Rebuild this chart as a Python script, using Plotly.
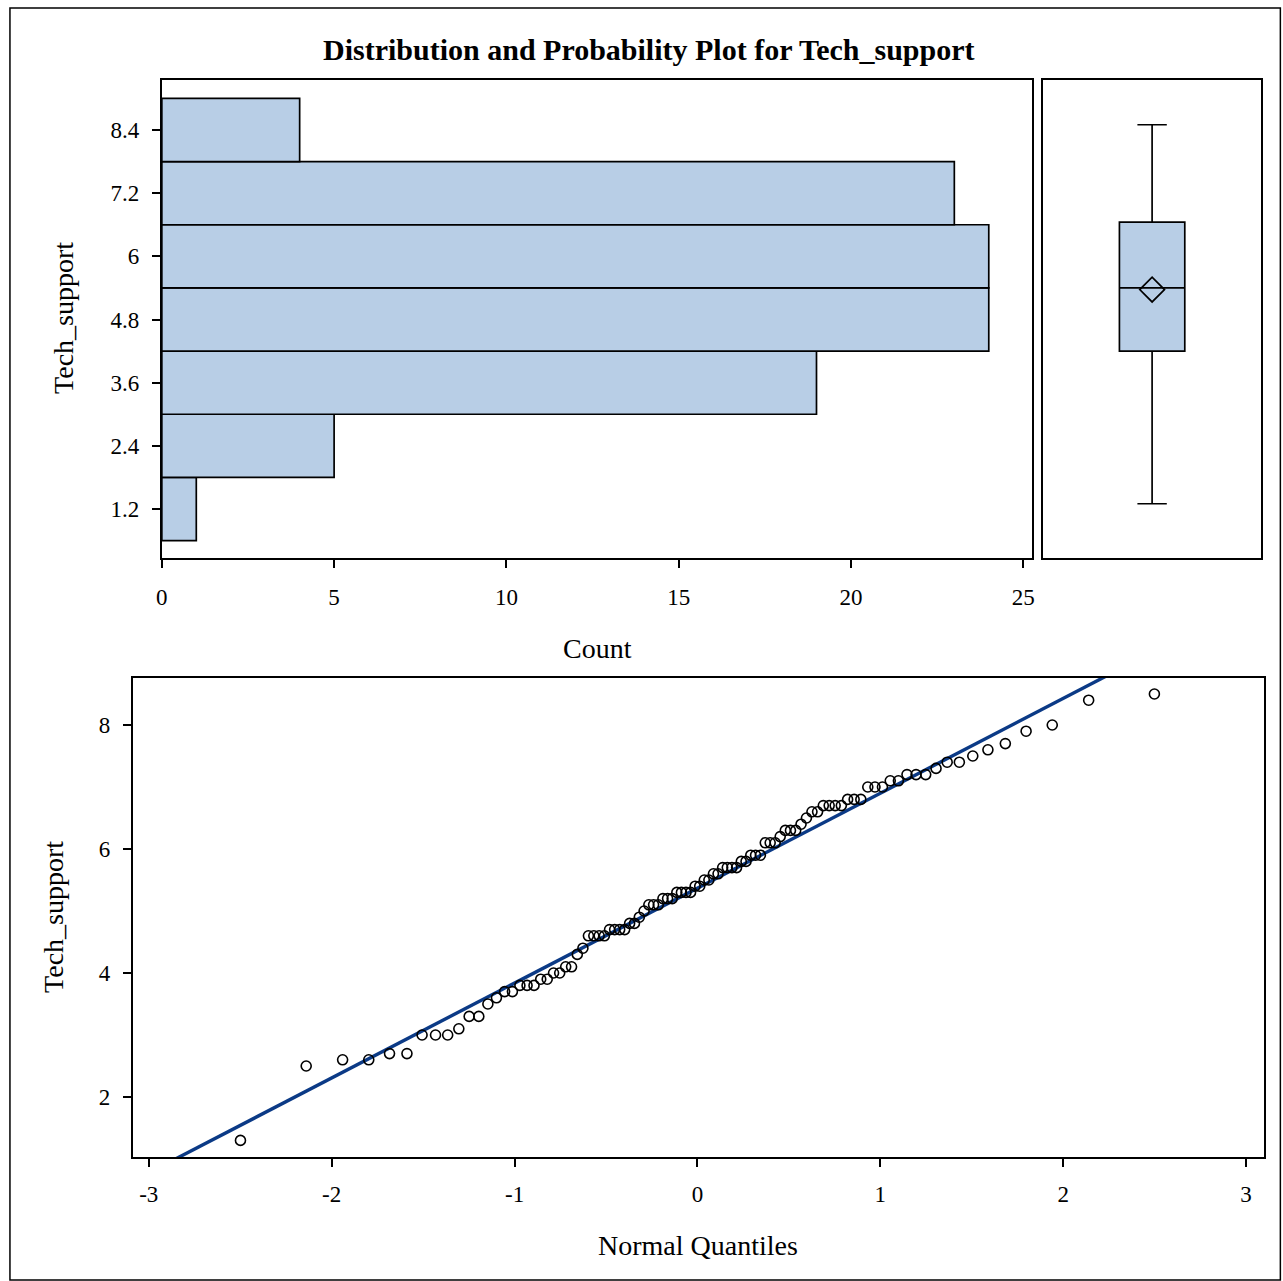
import statistics
import plotly.graph_objects as go

# Sorted Tech_support observations (n = 100)
tech_support = [
    1.3, 2.5, 2.6, 2.6, 2.7, 2.7, 3.0, 3.0, 3.0, 3.1,
    3.3, 3.3, 3.5, 3.6, 3.7, 3.7, 3.8, 3.8, 3.8, 3.9,
    3.9, 4.0, 4.0, 4.1, 4.1, 4.3, 4.4, 4.6, 4.6, 4.6,
    4.6, 4.7, 4.7, 4.7, 4.7, 4.8, 4.8, 4.9, 5.0, 5.1,
    5.1, 5.1, 5.2, 5.2, 5.2, 5.3, 5.3, 5.3, 5.3, 5.4,
    5.4, 5.5, 5.5, 5.6, 5.6, 5.7, 5.7, 5.7, 5.7, 5.8,
    5.8, 5.9, 5.9, 5.9, 6.1, 6.1, 6.1, 6.2, 6.3, 6.3,
    6.3, 6.4, 6.5, 6.6, 6.6, 6.7, 6.7, 6.7, 6.7, 6.8,
    6.8, 6.8, 7.0, 7.0, 7.0, 7.1, 7.1, 7.2, 7.2, 7.2,
    7.3, 7.4, 7.4, 7.5, 7.6, 7.7, 7.9, 8.0, 8.4, 8.5,
]

# Histogram bins (midpoints, width 1.2) and their counts
bin_midpoints = [1.2, 2.4, 3.6, 4.8, 6.0, 7.2, 8.4]
bin_labels = ["1.2", "2.4", "3.6", "4.8", "6", "7.2", "8.4"]
bin_counts = [1, 5, 19, 24, 24, 23, 4]
bin_width = 1.2

count_ticks = [0, 5, 10, 15, 20, 25]
qq_x_ticks = [-3, -2, -1, 0, 1, 2, 3]
qq_x_labels = ["-3", "-2", "-1", "0", "1", "2", "3"]
qq_y_ticks = [2, 4, 6, 8]

# ---- derived statistics ----
n = len(tech_support)
vals = sorted(tech_support)


def pctl(p):
    # empirical distribution with averaging (SAS definition 5)
    np_ = n * p
    j = int(np_)
    g = np_ - j
    if abs(g) < 1e-9:
        return (vals[j - 1] + vals[j]) / 2
    return vals[j]


q1, med, q3 = pctl(0.25), pctl(0.5), pctl(0.75)
mean = statistics.fmean(vals)
sd = statistics.stdev(vals)

nd = statistics.NormalDist()
normal_q = [nd.inv_cdf((i - 0.375) / (n + 0.25)) for i in range(1, n + 1)]

FONT = "Liberation Serif"
BAR_FILL = "#B8CEE6"
FIT_BLUE = "#0B3A86"
W, H = 1283, 1281


def fx(px):
    # horizontal pixel position -> paper fraction
    return min(max((px - 5.05) / (0.9945 * W), 0.0), 1.0)


def fy(py):
    return 1 - py / H


fig = go.Figure()

# Horizontal histogram
fig.add_trace(go.Bar(
    y=bin_midpoints, x=bin_counts, orientation="h", width=bin_width,
    marker=dict(color=BAR_FILL, line=dict(color="black", width=1.7)),
    xaxis="x", yaxis="y", showlegend=False, hoverinfo="skip",
))

# Box plot with mean diamond
fig.add_trace(go.Box(
    x=[0], q1=[q1], median=[med], q3=[q3],
    lowerfence=[vals[0]], upperfence=[vals[-1]],
    width=0.3, whiskerwidth=0.45,
    fillcolor=BAR_FILL, line=dict(color="black", width=1.7),
    xaxis="x2", yaxis="y2", showlegend=False, hoverinfo="skip",
))
fig.add_trace(go.Scatter(
    x=[0], y=[mean], mode="markers",
    marker=dict(symbol="diamond-open", size=19, color="black",
                line=dict(color="black", width=1.7)),
    xaxis="x2", yaxis="y2", showlegend=False, hoverinfo="skip",
))

# Normal probability plot with reference line (mu = mean, sigma = sd)
x_line = [-3.2, 3.2]
fig.add_trace(go.Scatter(
    x=x_line, y=[mean + sd * v for v in x_line], mode="lines",
    line=dict(color=FIT_BLUE, width=3.4),
    xaxis="x3", yaxis="y3", showlegend=False, hoverinfo="skip",
))
fig.add_trace(go.Scatter(
    x=normal_q, y=vals, mode="markers",
    marker=dict(symbol="circle-open", size=10, color="black",
                line=dict(color="black", width=1.6)),
    xaxis="x3", yaxis="y3", showlegend=False, hoverinfo="skip",
))

tick_font = dict(family=FONT, size=23, color="black")
frame = dict(showline=True, linecolor="black", linewidth=2, mirror=True,
             showgrid=False, zeroline=False)
outside = dict(ticks="outside", ticklen=8, tickwidth=1.6, tickcolor="black",
               tickfont=tick_font)

hist_y_range = [0.269, 9.35]

fig.update_layout(
    width=W, height=H,
    margin=dict(l=0, r=0, t=0, b=0),
    paper_bgcolor="white", plot_bgcolor="white",
    font=dict(family=FONT, color="black"),
    xaxis=dict(domain=[fx(161), fx(1032)], range=[0, 25.26],
               tickvals=count_ticks, anchor="y", ticklabelstandoff=9,
               **frame, **outside),
    yaxis=dict(domain=[fy(558), fy(80)], range=hist_y_range,
               tickvals=bin_midpoints, ticktext=bin_labels,
               anchor="x", ticklabelstandoff=8, **frame, **outside),
    xaxis2=dict(domain=[fx(1043), fx(1261)], range=[-0.5, 0.5],
                showticklabels=False, anchor="y2", **frame),
    yaxis2=dict(domain=[fy(558), fy(80)], range=hist_y_range,
                showticklabels=False, anchor="x2", **frame),
    xaxis3=dict(domain=[fx(132), fx(1264)], range=[-3.087, 3.098],
                tickvals=qq_x_ticks, ticktext=qq_x_labels, anchor="y3",
                ticklabelstandoff=7, **frame, **outside),
    yaxis3=dict(domain=[fy(1157), fy(678)], range=[1.032, 8.758],
                tickvals=qq_y_ticks, anchor="x3", ticklabelstandoff=8,
                **frame, **outside),
)

title_font = dict(family=FONT, size=28, color="black")
annotations = [
    dict(text="<b>Distribution and Probability Plot for Tech_support</b>",
         x=fx(649), y=fy(49), font=dict(family=FONT, size=30, color="black")),
    dict(text="Count", x=fx(597), y=fy(648), font=title_font),
    dict(text="Tech_support", x=fx(62), y=fy(318), textangle=-90, font=title_font),
    dict(text="Normal Quantiles", x=fx(698), y=fy(1245), font=title_font),
    dict(text="Tech_support", x=fx(52), y=fy(917), textangle=-90, font=title_font),
]
for a in annotations:
    a.update(xref="paper", yref="paper", showarrow=False,
             xanchor="center", yanchor="middle")
fig.update_layout(annotations=annotations)

# Outer frame around the whole graphic
fig.add_shape(type="rect", xref="paper", yref="paper",
              x0=fx(9), x1=0.9995, y0=fy(1280), y1=fy(8),
              line=dict(color="black", width=1.5), fillcolor="rgba(0,0,0,0)")

fig.write_html("out.html")
